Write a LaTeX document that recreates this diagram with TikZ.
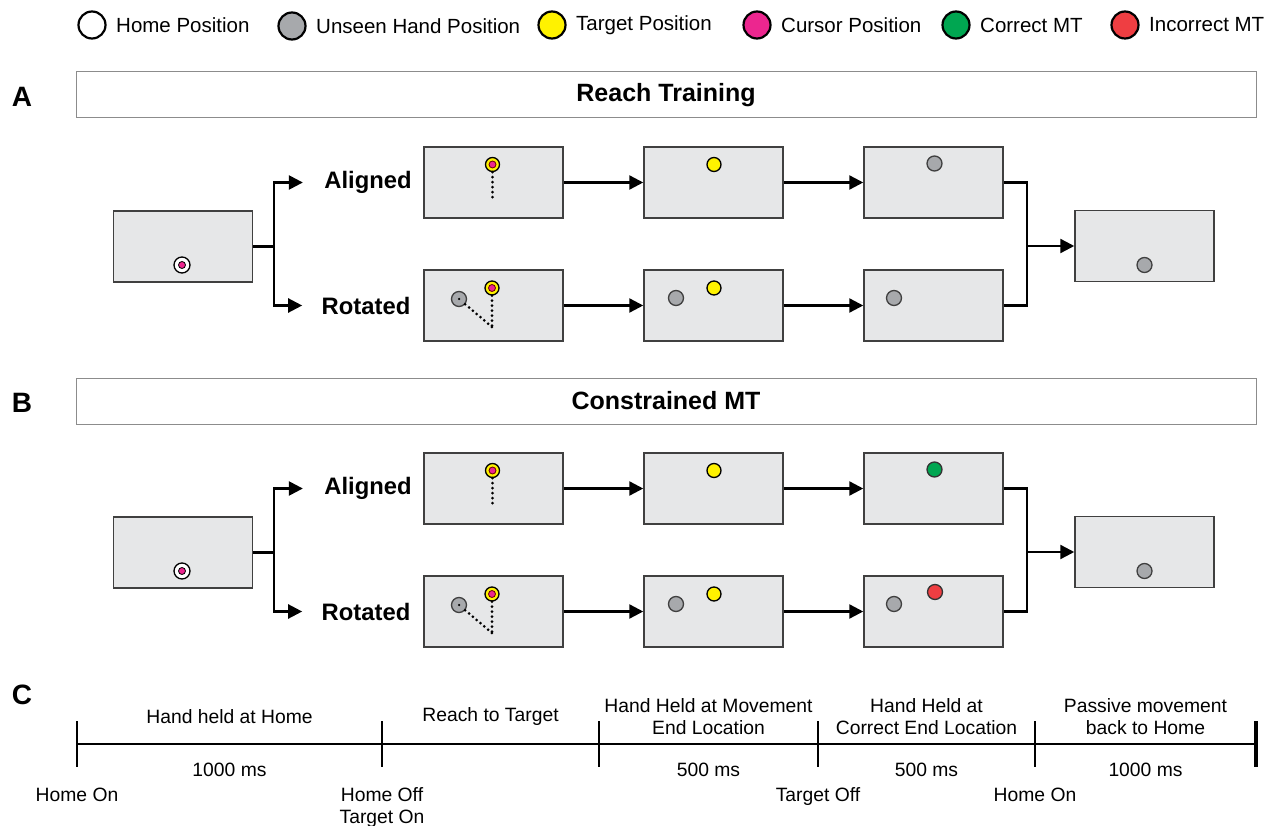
\documentclass[tikz,border=0pt]{standalone}
\usepackage{fontspec}
\setmainfont{Liberation Sans}
\usetikzlibrary{arrows.meta,positioning,calc}
\definecolor{screengray}{HTML}{E6E7E8}
\definecolor{handgray}{HTML}{A7A9AC}
\definecolor{tgtyellow}{HTML}{FFF200}
\definecolor{cursorpink}{HTML}{EC268F}
\definecolor{okgreen}{HTML}{00A651}
\definecolor{errred}{HTML}{EF3E42}
\tikzset{
  screen/.style={draw=black!75,fill=screengray,line width=1.5pt,minimum width=139pt,minimum height=71pt,inner sep=0pt},
  header/.style={draw=black!45,line width=1pt,minimum width=1180pt,minimum height=46pt,font=\fontsize{25}{30}\selectfont\bfseries},
  panellabel/.style={font=\fontsize{28}{32}\selectfont\bfseries},
  rowlabel/.style={font=\fontsize{23.8}{28}\selectfont\bfseries},
  legendtext/.style={anchor=west,inner sep=0pt,font=\fontsize{20.5}{24}\selectfont},
  key/.style={circle,draw=black,line width=2.2pt,minimum size=27pt,inner sep=0pt},
  dot/.style={circle,line width=1.3pt,inner sep=0pt},
  handdot/.style={dot,draw=black!75,fill=handgray,minimum size=15pt},
  rightdot/.style={dot,draw=black!80,fill=okgreen,minimum size=15pt},
  wrongdot/.style={dot,draw=black!80,fill=errred,minimum size=15pt},
  homedot/.style={dot,draw=black,fill=white,minimum size=16pt},
  targetdot/.style={dot,draw=black,fill=tgtyellow,minimum size=14pt},
  cursordot/.style={dot,line width=0.8pt,draw=black!60!red,fill=cursorpink,minimum size=7pt},
  pip/.style={circle,fill=black,inner sep=0pt,minimum size=2.5pt},
  trace/.style={line width=3pt,line cap=round,dash pattern=on 0pt off 5pt},
  wire/.style={line width=2.4pt},
  arr/.style={wire,-{Triangle[length=14pt,width=14pt]}},
  tltext/.style={align=center,font=\fontsize{19.3}{22}\selectfont}
}
\begin{document}
\begin{tikzpicture}[x=1pt,y=-1pt,node distance=79.5pt]
\useasboundingbox (0,0) rectangle (1269,826);
% legend
\node[key,fill=white] (kHome) at (92,25) {};
\node[legendtext] (tHome) at (116,25) {Home Position};
\node[key,fill=handgray] (kHand) at (292,26) {};
\node[legendtext] (tHand) at (316,26) {Unseen Hand Position};
\node[key,fill=tgtyellow] (kTgt) at (552,25) {};
\node[legendtext] (tTgt) at (576,25) {Target Position};
\node[key,fill=cursorpink] (kCur) at (757,25) {};
\node[legendtext] (tCur) at (781,25) {Cursor Position};
\node[key,fill=okgreen] (kOk) at (956,25) {};
\node[legendtext] (tOk) at (980,25) {Correct MT};
\node[key,fill=errred] (kErr) at (1125,25) {};
\node[legendtext] (tErr) at (1149,25) {Incorrect MT};
% panels A and B
\foreach \p/\dy/\ttl/\fin in {A/0/Reach Training/handdot,B/306/Constrained MT/rightdot}{
\begin{scope}[shift={(0,\dy)}]
\node[panellabel] (lbl\p) at (22,97) {\p};
\node[header] (hdr\p) at (666,95) {\ttl};
\node[screen] (start\p) at (183,246.5) {};
\node[screen] (alnA\p) at (493.5,182.5) {};
\node[screen,right=of alnA\p] (alnB\p) {};
\node[screen,right=of alnB\p] (alnC\p) {};
\node[screen] (rotA\p) at (493.5,305.5) {};
\node[screen,right=of rotA\p] (rotB\p) {};
\node[screen,right=of rotB\p] (rotC\p) {};
\node[screen] (end\p) at (1144.5,246) {};
\node[rowlabel] (alnlbl\p) at (368,182.5) {Aligned};
\node[rowlabel] (rotlbl\p) at (366,305.5) {Rotated};
% connectors
\draw[wire] (start\p.east) -- ++(21,0) coordinate (fork\p);
\draw[arr,shorten >=18pt] (fork\p) |- (alnlbl\p.west);
\draw[arr,shorten >=16pt] (fork\p) |- (rotlbl\p.west);
\draw[arr] (alnA\p) -- (alnB\p);
\draw[arr] (alnB\p) -- (alnC\p);
\draw[arr] (rotA\p) -- (rotB\p);
\draw[arr] (rotB\p) -- (rotC\p);
\draw[wire] (alnC\p.east) -- ++(23,0) coordinate (join\p) |- (rotC\p.east);
\draw[arr] (join\p |- end\p.west) -- (end\p.west);
% positions on the screens
\node[homedot] (home\p) at ($(start\p)+(-1,18.5)$) {};
\node[cursordot,draw=black] (homecur\p) at (home\p) {};
\node[targetdot] (tgtA\p) at ($(alnA\p)+(-1,-18)$) {};
\node[cursordot] (curA\p) at (tgtA\p) {};
\coordinate (stopA\p) at ($(alnA\p)+(-1,18)$);
\draw[trace] (tgtA\p) -- (stopA\p);
\node[targetdot] (tgtB\p) at ($(alnB\p)+(0.5,-18)$) {};
\node[\fin] (fbA\p) at ($(alnC\p)+(1,-19)$) {};
\node[handdot] (handA\p) at ($(rotA\p)+(-34.5,-6.5)$) {};
\node[pip] (pipA\p) at (handA\p) {};
\node[targetdot] (tgtR\p) at ($(rotA\p)+(-1.5,-17.5)$) {};
\node[cursordot] (curR\p) at (tgtR\p) {};
\coordinate (stopR\p) at ($(rotA\p)+(-1.5,21.5)$);
\draw[trace] (tgtR\p) -- (stopR\p);
\draw[trace] (handA\p) -- (stopR\p);
\node[handdot] (handB\p) at ($(rotB\p)+(-37.5,-7.5)$) {};
\node[targetdot] (tgtRB\p) at ($(rotB\p)+(0.5,-17.5)$) {};
\node[handdot] (handC\p) at ($(rotC\p)+(-39.5,-7.5)$) {};
\node[handdot] (back\p) at ($(end\p)+(0,19)$) {};
\end{scope}
}
\node[wrongdot] (fbRB) at ($(rotCB)+(1.5,-19.5)$) {};
% panel C: timeline
\node[panellabel] (lblC) at (22,695) {C};
\foreach \n/\x in {0/77,1/382,2/599,3/818,4/1035,5/1256}
  \coordinate (t\n) at (\x,744);
\draw[wire] (t0) -- (t5);
\foreach \n in {0,...,4}
  \draw[wire] ([yshift=23pt]t\n) -- ([yshift=-23pt]t\n);
\draw[wire,line width=3.5pt] ([yshift=23pt]t5) -- ([yshift=-23pt]t5);
\foreach \a/\b/\txt in {0/1/Hand held at Home,1/2/Reach to Target,2/3/{Hand Held at Movement\\End Location},3/4/{Hand Held at\\Correct End Location},4/5/{Passive movement\\back to Home}}
  \node[tltext] (phase\a) at ($(t\a)!0.5!(t\b)+(0,-27)$) {\txt};
\foreach \a/\b/\txt in {0/1/1000 ms,2/3/500 ms,3/4/500 ms,4/5/1000 ms}
  \node[tltext] (dur\a) at ($(t\a)!0.5!(t\b)+(0,26)$) {\txt};
\foreach \n/\txt in {0/Home On,1/{Home Off\\Target On},3/Target Off,4/Home On}
  \node[tltext,anchor=north] (event\n) at ($(t\n)+(0,40)$) {\txt};
\end{tikzpicture}
\end{document}
